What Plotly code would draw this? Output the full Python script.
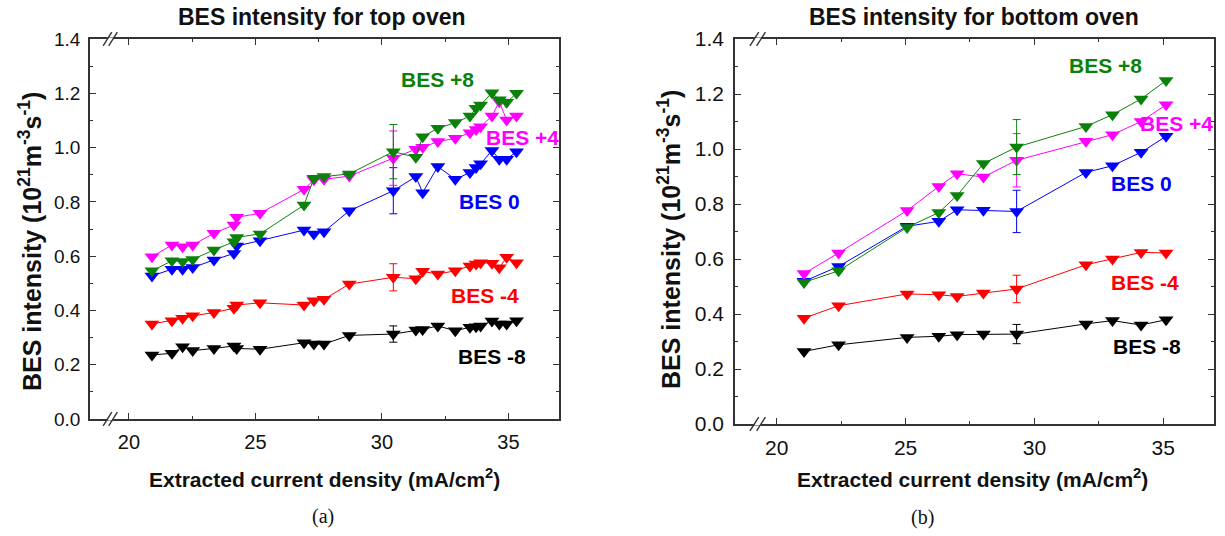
import plotly.graph_objects as go

# ---------------- data: top oven (a) ----------------
top_x = [20.91, 21.70, 22.12, 22.52, 23.36, 24.15, 24.26, 25.18, 26.92, 27.31, 27.71, 28.71,
         30.45, 31.34, 31.61, 32.21, 32.90, 33.48, 33.72, 33.90, 34.35, 34.64, 34.93, 35.32]
top_m8 = [0.236, 0.242, 0.266, 0.252, 0.260, 0.269, 0.260, 0.257, 0.281, 0.276, 0.276, 0.308,
          0.313, 0.328, 0.330, 0.343, 0.325, 0.338, 0.340, 0.343, 0.361, 0.350, 0.350, 0.362]
top_m4 = [0.350, 0.362, 0.371, 0.380, 0.392, 0.408, 0.420, 0.428, 0.420, 0.436, 0.441, 0.497,
          0.522, 0.517, 0.544, 0.534, 0.546, 0.564, 0.571, 0.576, 0.574, 0.557, 0.596, 0.576]
top_0 = [0.527, 0.552, 0.552, 0.558, 0.586, 0.610, 0.637, 0.657, 0.696, 0.682, 0.690, 0.767,
         0.841, 0.893, 0.834, 0.930, 0.883, 0.908, 0.927, 0.940, 0.989, 0.957, 0.957, 0.985]
top_p4 = [0.598, 0.641, 0.635, 0.641, 0.684, 0.715, 0.743, 0.758, 0.846, 0.881, 0.883, 0.895,
          0.961, 0.994, 1.001, 1.022, 1.034, 1.055, 1.067, 1.077, 1.116, 1.169, 1.102, 1.116]
top_p8 = [0.546, 0.583, 0.580, 0.588, 0.623, 0.653, 0.669, 0.682, 0.788, 0.887, 0.893, 0.903,
          0.985, 0.964, 1.040, 1.071, 1.092, 1.116, 1.145, 1.157, 1.202, 1.176, 1.167, 1.200]
top_err_idx = 12
top_err = {"m8": 0.03, "m4": 0.05, "0": 0.085, "p4": 0.10, "p8": 0.10}

# ---------------- data: bottom oven (b) ----------------
bot_x = [21.06, 22.40, 25.06, 26.29, 27.00, 28.02, 29.31, 32.00, 33.03, 34.14, 35.11]
bot_m8 = [0.264, 0.288, 0.315, 0.319, 0.325, 0.327, 0.327, 0.364, 0.376, 0.360, 0.379]
bot_m4 = [0.385, 0.430, 0.473, 0.470, 0.464, 0.476, 0.491, 0.579, 0.600, 0.624, 0.622]
bot_0 = [0.519, 0.573, 0.719, 0.737, 0.779, 0.777, 0.773, 0.915, 0.939, 0.988, 1.046]
bot_p4 = [0.547, 0.622, 0.776, 0.864, 0.910, 0.898, 0.959, 1.028, 1.052, 1.100, 1.161]
bot_p8 = [0.515, 0.557, 0.715, 0.769, 0.831, 0.947, 1.007, 1.082, 1.125, 1.182, 1.249]
bot_err_idx = 6
bot_err = {"m8": 0.035, "m4": 0.05, "0": 0.077, "p4": 0.097, "p8": 0.10}

series_names = ["BES -8", "BES -4", "BES 0", "BES +4", "BES +8"]
series_keys = ["m8", "m4", "0", "p4", "p8"]
colors = ["#000000", "#FF0000", "#0000FF", "#FF00FF", "#0A820A"]

FONT = "Liberation Sans, Arial, sans-serif"

fig = go.Figure()


def err_array(n, idx, val):
    arr = [None] * n
    arr[idx] = val
    return arr


top_series = [top_m8, top_m4, top_0, top_p4, top_p8]
bot_series = [bot_m8, bot_m4, bot_0, bot_p4, bot_p8]

for k, name, col, ys in zip(series_keys, series_names, colors, top_series):
    fig.add_trace(go.Scatter(
        x=top_x, y=ys, mode="lines+markers", name=name, xaxis="x", yaxis="y",
        line=dict(color=col, width=1),
        marker=dict(symbol="triangle-down", size=13, color=col, line=dict(width=0)),
        error_y=dict(type="data", array=err_array(len(top_x), top_err_idx, top_err[k]),
                     color=col, thickness=1, width=4, visible=True),
        showlegend=False))

for k, name, col, ys in zip(series_keys, series_names, colors, bot_series):
    fig.add_trace(go.Scatter(
        x=bot_x, y=ys, mode="lines+markers", name=name, xaxis="x2", yaxis="y2",
        line=dict(color=col, width=1),
        marker=dict(symbol="triangle-down", size=13, color=col, line=dict(width=0)),
        error_y=dict(type="data", array=err_array(len(bot_x), bot_err_idx, bot_err[k]),
                     color=col, thickness=1, width=4, visible=True),
        showlegend=False))

W, H = 1225, 536
L_box = (90, 559, 39, 419)     # left, right, top, bottom in px
R_box = (735, 1214, 39, 424)


def xdom(b):
    return [b[0] / W, b[1] / W]


def ydom(b):
    return [(H - b[3]) / H, (H - b[2]) / H]


axis_common = dict(
    showline=True, linecolor="#333333", linewidth=1.6, mirror="ticks",
    ticks="inside", ticklen=6, tickwidth=1.3, tickcolor="#333333",
    showgrid=False, zeroline=False, automargin=False,
)

fig.update_layout(
    template="none",
    width=W, height=H, margin=dict(l=0, r=0, t=0, b=0, pad=0, autoexpand=False),
    paper_bgcolor="white", plot_bgcolor="white",
    xaxis=dict(domain=xdom(L_box), anchor="y", range=[18.46, 37.0], tick0=0, dtick=5,
               minor=dict(ticks="inside", dtick=2.5, ticklen=3, tickwidth=1.2, tickcolor="#333333"),
               tickfont=dict(family=FONT, size=20, color="#111"), ticklabelstandoff=4,
               **axis_common),
    yaxis=dict(domain=ydom(L_box), anchor="x", range=[0, 1.4], tick0=0, dtick=0.2,
               tickformat=".1f",
               minor=dict(ticks="inside", dtick=0.1, ticklen=3, tickwidth=1.2, tickcolor="#333333"),
               tickfont=dict(family=FONT, size=19, color="#111"), ticklabelstandoff=4,
               **axis_common),
    xaxis2=dict(domain=xdom(R_box), anchor="y2", range=[18.38, 36.97], tick0=0, dtick=5,
                minor=dict(ticks="inside", dtick=2.5, ticklen=3, tickwidth=1.2, tickcolor="#333333"),
                tickfont=dict(family=FONT, size=21, color="#111"), ticklabelstandoff=4,
                **axis_common),
    yaxis2=dict(domain=ydom(R_box), anchor="x2", range=[0, 1.4], tick0=0, dtick=0.2,
                tickformat=".1f",
                minor=dict(ticks="inside", dtick=0.1, ticklen=3, tickwidth=1.2, tickcolor="#333333"),
                tickfont=dict(family=FONT, size=21, color="#111"), ticklabelstandoff=5,
                **axis_common),
)

annotations = []


def px_ann(text, x, y, size, bold=True, color="#111", angle=0, family=FONT):
    t = f"<b>{text}</b>" if bold else text
    annotations.append(dict(text=t, x=x / W, y=1 - y / H, xref="paper", yref="paper",
                            showarrow=False, xanchor="center", yanchor="middle",
                            textangle=angle, font=dict(family=family, size=size, color=color)))


px_ann("BES intensity for top oven", 322, 17, 23)
px_ann("BES intensity for bottom oven", 974, 17, 23)
ytitle = "BES intensity (10<sup>21</sup>m<sup>-3</sup>s<sup>-1</sup>)"
xtitle = "Extracted current density (mA/cm<sup>2</sup>)"
px_ann(ytitle, 30, 242, 25, angle=-90)
px_ann(ytitle, 669, 240, 25, angle=-90)
px_ann(xtitle, 324, 478, 21)
px_ann(xtitle, 972, 478, 21)
px_ann("(a)", 323, 516, 20, bold=False, family="Liberation Serif, Times New Roman, serif")
px_ann("(b)", 922, 517, 20, bold=False, family="Liberation Serif, Times New Roman, serif")

top_label_pos = [(34.34, 0.232), (34.07, 0.454), (34.27, 0.801), (35.57, 1.037), (32.21, 1.250)]
bot_label_pos = [(34.37, 0.281), (34.29, 0.516), (34.17, 0.874), (35.50, 1.092), (32.77, 1.304)]
for name, col, (lx, ly) in zip(series_names, colors, top_label_pos):
    annotations.append(dict(text=f"<b>{name}</b>", x=lx, y=ly, xref="x", yref="y",
                            showarrow=False, font=dict(family=FONT, size=21, color=col)))
for name, col, (lx, ly) in zip(series_names, colors, bot_label_pos):
    annotations.append(dict(text=f"<b>{name}</b>", x=lx, y=ly, xref="x2", yref="y2",
                            showarrow=False, font=dict(family=FONT, size=21, color=col)))

fig.update_layout(annotations=annotations)

shapes = []
for xr, yr, xs in [("x", "y", (18.98, 19.20)), ("x2", "y2", (18.96, 19.22))]:
    for yd in (0.0, 1.0):
        shapes.append(dict(type="line", xref=xr, yref=f"{yr} domain",
                           x0=xs[0] + 0.17, x1=xs[1] + 0.17, y0=yd, y1=yd,
                           line=dict(color="white", width=3), layer="above"))
        for x0 in xs:
            shapes.append(dict(type="line", xref=xr, yref=f"{yr} domain",
                               x0=x0, x1=x0 + 0.34, y0=yd - 0.018, y1=yd + 0.018,
                               line=dict(color="#333333", width=1.4), layer="above"))
fig.update_layout(shapes=shapes)

fig.write_html("out.html",
               post_script="document.body.style.margin='0';document.body.style.overflow='hidden';")
